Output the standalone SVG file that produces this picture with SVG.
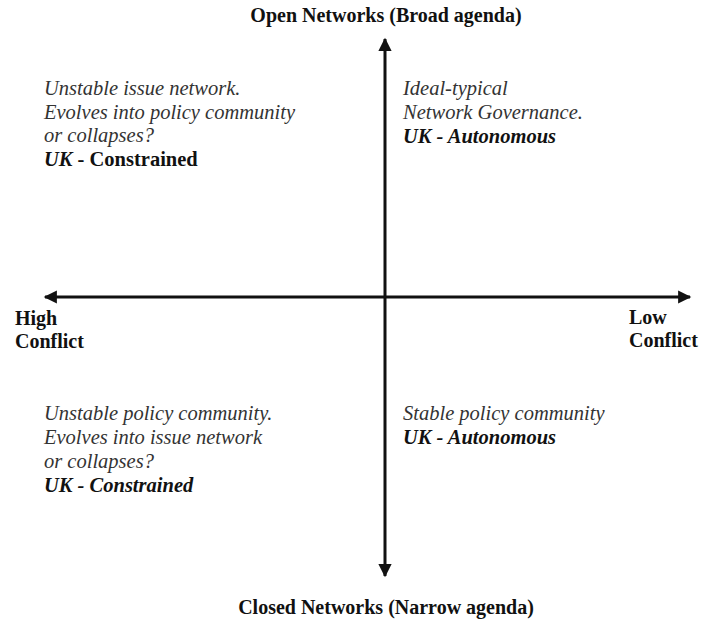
<svg xmlns="http://www.w3.org/2000/svg" width="701" height="621" viewBox="0 0 701 621">
<style>
text{font-family:"Liberation Serif","Times New Roman","DejaVu Serif",serif}
.t{font-size:20.5px}
.i{font-style:italic;fill:#333}
.b{font-weight:bold;fill:#111}
.ax{font-size:20px;font-weight:bold;fill:#111}
.line{stroke:#111;stroke-width:3;fill:none}
</style>
<defs>
<marker id="ah" viewBox="0 0 10 10" refX="9" refY="5" markerWidth="5" markerHeight="4.4" orient="auto" markerUnits="strokeWidth">
<path d="M0,0 L10,5 L0,10 z" fill="#111"/>
</marker>
</defs>
<rect width="701" height="621" fill="#fff"/>
<g id="connectors">
<line class="line" x1="385" y1="297" x2="385" y2="39" marker-end="url(#ah)"/>
<line class="line" x1="385" y1="297" x2="385" y2="576" marker-end="url(#ah)"/>
<line class="line" x1="385" y1="297" x2="45" y2="297" marker-end="url(#ah)"/>
<line class="line" x1="385" y1="297" x2="690" y2="297" marker-end="url(#ah)"/>
</g>
<g id="open-networks"><text class="ax" x="386" y="22" text-anchor="middle">Open Networks (Broad agenda)</text></g>
<g id="closed-networks"><text class="ax" x="386" y="614" text-anchor="middle">Closed Networks (Narrow agenda)</text></g>
<g id="high-conflict"><text class="ax" x="15" y="325">High</text><text class="ax" x="15" y="348">Conflict</text></g>
<g id="low-conflict"><text class="ax" x="629" y="324">Low</text><text class="ax" x="629" y="347">Conflict</text></g>
<g id="top-left" class="t">
<text class="i" x="44" y="95">Unstable issue network.</text>
<text class="i" x="44" y="119">Evolves into policy community</text>
<text class="i" x="44" y="142">or collapses?</text>
<text x="44" y="166"><tspan class="b i" style="fill:#111">UK</tspan><tspan class="b"> - Constrained</tspan></text>
</g>
<g id="top-right" class="t">
<text class="i" x="403" y="95">Ideal-typical</text>
<text class="i" x="403" y="119">Network Governance.</text>
<text class="b i" x="403" y="143" style="fill:#111">UK - Autonomous</text>
</g>
<g id="bottom-left" class="t">
<text class="i" x="44" y="420">Unstable policy community.</text>
<text class="i" x="44" y="444">Evolves into issue network</text>
<text class="i" x="44" y="468">or collapses?</text>
<text class="b i" x="44" y="492" style="fill:#111">UK - Constrained</text>
</g>
<g id="bottom-right" class="t">
<text class="i" x="403" y="420">Stable policy community</text>
<text class="b i" x="403" y="444" style="fill:#111">UK - Autonomous</text>
</g>
</svg>
